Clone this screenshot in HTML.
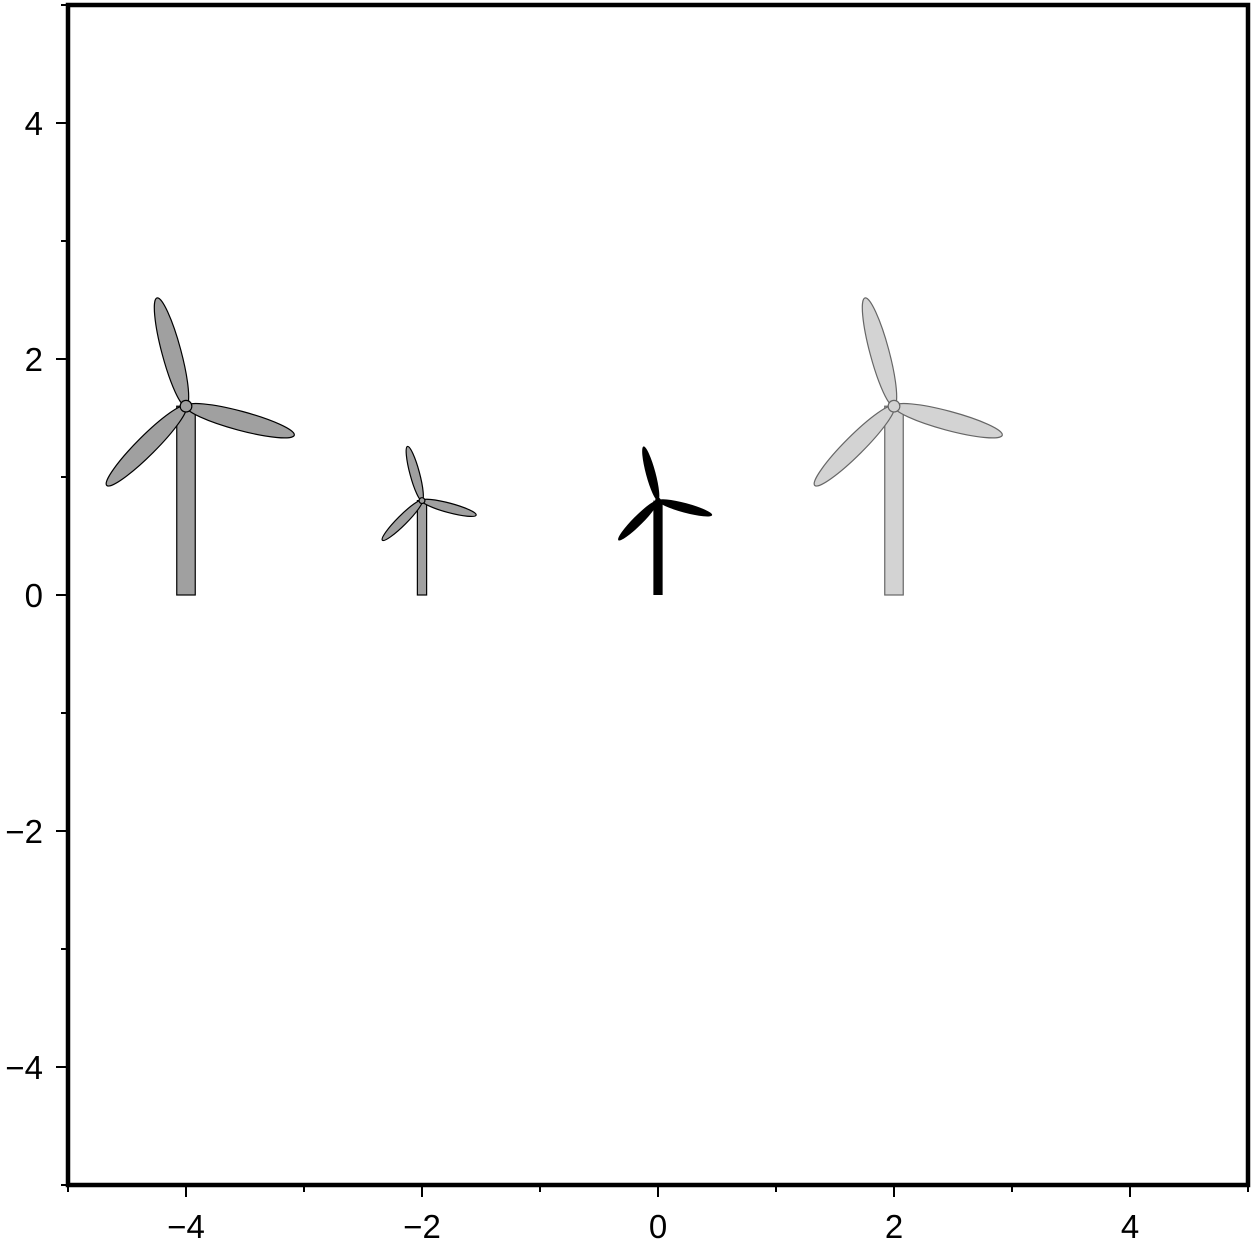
<!DOCTYPE html>
<html><head><meta charset="utf-8"><style>html,body{margin:0;padding:0;background:#fff}svg{display:block}</style></head>
<body>
<svg id="chart" width="1254" height="1240" viewBox="0 0 1254 1240" xmlns="http://www.w3.org/2000/svg" font-family="Liberation Sans, sans-serif">
<g id="marks"></g>
<g id="axes"></g>
</svg>
<script>
const turbineX = [-4, -2, 0, 2];
const hubHeight = [1.6, 0.8, 0.8, 1.6];
const bladeLen = [0.95, 0.475, 0.475, 0.95];
const turbineFill = ['#a0a0a0', '#a0a0a0', '#000000', '#d3d3d3'];
const turbineStroke = ['#000000', '#000000', '#000000', '#666666'];
const xTicks = [-4, -2, 0, 2, 4];
const yTicks = [-4, -2, 0, 2, 4];
const xTickLabels = ['\u22124', '\u22122', '0', '2', '4'];
const yTickLabels = ['\u22124', '\u22122', '0', '2', '4'];

const X0 = 68, X1 = 1248, Y0 = 5, Y1 = 1185;
const sx = v => X0 + (v + 5) / 10 * (X1 - X0);
const sy = v => Y1 - (v + 5) / 10 * (Y1 - Y0);
const NS = 'http://www.w3.org/2000/svg';
function mk(tag, attrs, parent) {
  const e = document.createElementNS(NS, tag);
  for (const k in attrs) e.setAttribute(k, attrs[k]);
  parent.appendChild(e); return e;
}
const marks = document.getElementById('marks');
const axes = document.getElementById('axes');
const unit = (X1 - X0) / 10;

turbineX.forEach((x, i) => {
  const g = mk('g', {}, marks);
  
  
  const cx = sx(x), cy = sy(hubHeight[i]), base = sy(0);
  const L = bladeLen[i] * unit;
  const tw = L * 0.165;
  const sw = turbineFill[i] === '#000000' ? 0 : 1.2;
  const tower = mk('rect', {x: cx - tw / 2, y: cy, width: tw, height: base - cy, fill: turbineFill[i], stroke: turbineStroke[i], 'stroke-width': sw}, g);
  
  
  [105, -15, 225].forEach(a => {
    const b = mk('ellipse', {cx: cx + L / 2, cy: cy, rx: L / 2, ry: L * 0.085, fill: turbineFill[i], stroke: turbineStroke[i], 'stroke-width': sw, transform: 'rotate(' + (-a) + ' ' + cx + ' ' + cy + ')'}, g);
    
    
  });
  const hub = mk('circle', {cx: cx, cy: cy, r: L * 0.052, fill: turbineFill[i], stroke: turbineStroke[i], 'stroke-width': sw}, g);
  
  
});

const frame = mk('rect', {x: X0, y: Y0, width: X1 - X0, height: Y1 - Y0, fill: 'none', stroke: '#000', 'stroke-width': 4.5}, axes);


for (let v = -5; v <= 5; v++) {
  const major = v % 2 === 0;
  const len = major ? 10 : 5;
  mk('line', {x1: sx(v), x2: sx(v), y1: Y1, y2: Y1 + len + 2, stroke: '#000', 'stroke-width': 2}, axes);
  mk('line', {x1: X0 - len - 2, x2: X0, y1: sy(v), y2: sy(v), stroke: '#000', 'stroke-width': 2}, axes);
}
xTicks.forEach((v, i) => {
  const t = mk('text', {x: sx(v), y: 1238, 'font-size': 33, 'text-anchor': 'middle'}, axes);
  t.textContent = xTickLabels[i];
  
  
});
yTicks.forEach((v, i) => {
  const t = mk('text', {x: 43, y: sy(v) + 12, 'font-size': 33, 'text-anchor': 'end'}, axes);
  t.textContent = yTickLabels[i];
  
  
});
</script>
</body></html>
